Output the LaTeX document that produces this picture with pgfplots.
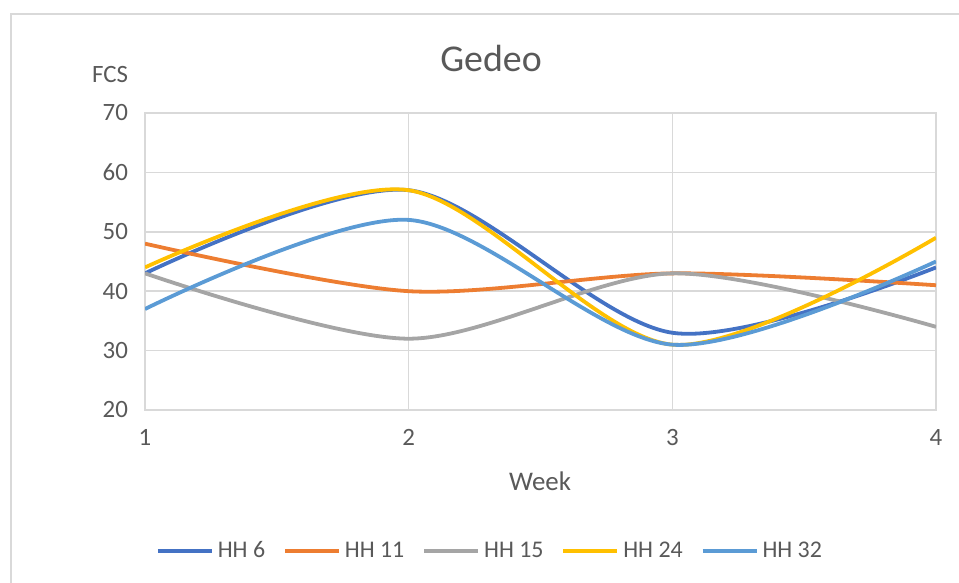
\documentclass[border=0pt]{standalone}
\usepackage{fontspec}
\setmainfont{Carlito}
\usepackage{pgfplots}
\pgfplotsset{compat=1.18}
\definecolor{hhsix}{HTML}{4472C4}
\definecolor{hheleven}{HTML}{ED7D31}
\definecolor{hhfifteen}{HTML}{A5A5A5}
\definecolor{hhtwentyfour}{HTML}{FFC000}
\definecolor{hhthirtytwo}{HTML}{5B9BD5}
\definecolor{gridgray}{HTML}{D9D9D9}
\definecolor{txtgray}{HTML}{595959}
\begin{document}
\begin{tikzpicture}[x=0.5bp,y=0.5bp]
\useasboundingbox (0,0) rectangle (959,583);
\clip (0,0) rectangle (959,583);
\draw[gridgray, line width=0.8bp] (11,-20) -- (11,569) -- (980,569);
\begin{axis}[
  at={(72.5bp,86.5bp)}, anchor=south west,
  scale only axis, width=395.5bp, height=148.5bp,
  xmin=1, xmax=4, ymin=20, ymax=70,
  xtick={1,2,3,4}, ytick={20,30,40,50,60,70},
  grid=major,
  major grid style={gridgray, line width=0.8bp},
  axis line style={gridgray, line width=0.8bp},
  major tick length=0pt,
  tick label style={font=\fontsize{12.5}{14}\selectfont, text=txtgray},
  /pgf/number format/assume math mode=true,
  yticklabel style={xshift=-5bp},
  xticklabel style={yshift=-6bp},
  legend style={at={(0.4374,-0.4747)}, anchor=center, draw=none, fill=none,
    legend columns=5, font=\fontsize{12}{14}\selectfont, text=txtgray,
    /tikz/every even column/.append style={column sep=7bp},
    inner sep=0pt},
  legend image code/.code={\draw[#1, line width=1.9bp] (0bp,0bp) -- (27bp,0bp);},
  legend cell align=left,
  every axis plot/.append style={smooth, line width=1.9bp, no marks},
]
\addplot[hhsix] coordinates {(1,43) (2,57) (3,33) (4,44)};
\addlegendentry{HH 6}
\addplot[hheleven] coordinates {(1,48) (2,40) (3,43) (4,41)};
\addlegendentry{HH 11}
\addplot[hhfifteen] coordinates {(1,43) (2,32) (3,43) (4,34)};
\addlegendentry{HH 15}
\addplot[hhtwentyfour] coordinates {(1,44) (2,57) (3,31) (4,49)};
\addlegendentry{HH 24}
\addplot[hhthirtytwo] coordinates {(1,37) (2,52) (3,31) (4,45)};
\addlegendentry{HH 32}
\end{axis}
\node[text=txtgray, font=\fontsize{19}{22}\selectfont] at (491,525) {Gedeo};
\node[text=txtgray, font=\fontsize{12.5}{14}\selectfont] at (110,508) {FCS};
\node[text=txtgray, font=\fontsize{13.5}{16}\selectfont] at (540,102) {Week};
\end{tikzpicture}
\end{document}
